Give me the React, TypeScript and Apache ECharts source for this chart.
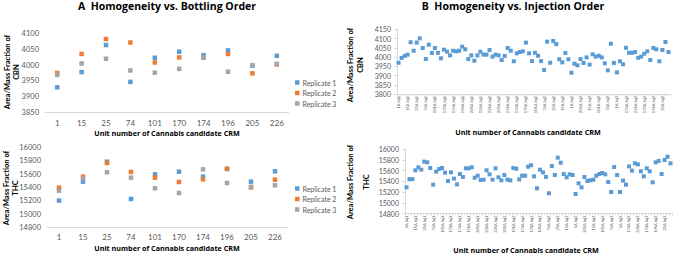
import React, { useEffect, useRef } from "react";
import * as echarts from "echarts";

// ---- Data ----
const units = ["1", "15", "25", "74", "101", "170", "174", "196", "205", "226"];
const replicateNames = ["Replicate 1", "Replicate 2", "Replicate 3"];

const bottlingCBNRep1 = [3930, 3978, 4063, 3947, 4023, 4042, 4031, 4046, 3998, 4029];
const bottlingCBNRep2 = [3975, 4035, 4082, 4071, 4008, 4024, 4023, 4035, 3974, 4002];
const bottlingCBNRep3 = [3969, 4005, 4020, 3983, 3976, 3988, 4024, 3979, 3999, 4004];

const bottlingTHCRep1 = [15202, 15488, 15789, 15227, 15598, 15639, 15563, 15679, 15488, 15644];
const bottlingTHCRep2 = [15398, 15563, 15769, 15634, 15548, 15483, 15523, 15684, 15400, 15518];
const bottlingTHCRep3 = [15352, 15538, 15629, 15548, 15388, 15317, 15674, 15468, 15410, 15433];

const vials = ["A", "B", "C"];
const inj1Order = ["1", "15", "25", "74", "101", "170", "174", "196", "205", "226"];
const inj2Order = ["226", "205", "196", "174", "170", "101", "74", "25", "15", "1"];
const inj3Order = ["205", "15", "101", "74", "1", "174", "226", "170", "196", "25"];

const injectionCBN = [
  3969, 3995, 4006, 4013, 4080, 4034, 4078, 4101, 4049, 3989,
  4067, 4022, 4049, 4023, 3993, 4040, 4029, 4009, 4034, 4031,
  4034, 4056, 4042, 3989, 4009, 3980, 4009, 4029, 4013, 4013,
  4038, 4002, 4013, 4009, 3984, 4006, 4049, 4034, 3977, 4020,
  4027, 4031, 4078, 4020, 3978, 4023, 4007, 3978, 3930, 4083,
  3969, 4087, 4070, 3988, 3971, 4022, 3988, 3915, 3964, 3955,
  3989, 3968, 3998, 3959, 4015, 4002, 4007, 3998, 3966, 3928,
  4072, 3968, 3917, 3977, 3961, 4050, 4023, 4023, 4027, 3996,
  4002, 4018, 4031, 3984, 4049, 4042, 3977, 4038, 4081, 4027,
];

const injectionTHC = [
  15290, 15440, 15440, 15605, 15660, 15617, 15765, 15753, 15648, 15338,
  15580, 15629, 15648, 15561, 15406, 15568, 15450, 15345, 15536, 15481,
  15642, 15642, 15660, 15468, 15505, 15425, 15431, 15605, 15530, 15431,
  15642, 15475, 15419, 15518, 15431, 15419, 15648, 15635, 15437, 15505,
  15505, 15672, 15700, 15493, 15270, 15617, 15567, 15481, 15178, 15684,
  15518, 15839, 15746, 15536, 15475, 15530, 15518, 15165, 15363, 15289,
  15481, 15406, 15419, 15431, 15505, 15536, 15555, 15530, 15388, 15202,
  15666, 15518, 15202, 15413, 15338, 15678, 15598, 15734, 15716, 15586,
  15493, 15642, 15586, 15382, 15753, 15777, 15536, 15796, 15857, 15734,
];

const yNameLine = "Area/Mass Fraction of";
const xName = "Unit number of Cannabis candidate CRM";

const injectionCategories: string[] = [];
[
  { order: inj1Order, inj: "Inj1" },
  { order: inj2Order, inj: "Inj2" },
  { order: inj3Order, inj: "Inj3" },
].forEach(({ order, inj }) => {
  order.forEach((u) => vials.forEach((v) => injectionCategories.push(`${u}${v} ${inj}`)));
});

const COLORS = ["#5B9BD5", "#ED7D31", "#A5A5A5"];
const LABEL_COLOR = "#595959";
const AXIS_COLOR = "#D9D9D9";
const FONT = "Lato";
const TITLE_FONT = "Open Sans";

export default function App() {
  const ref = useRef<HTMLDivElement>(null);

  useEffect(() => {
    if (!ref.current) return;
    const chart = echarts.init(ref.current, undefined, { renderer: "svg" });

    const catAxisA = (gridIndex: number) => ({
      type: "category",
      gridIndex,
      data: units,
      boundaryGap: true,
      axisLine: { show: true, lineStyle: { color: AXIS_COLOR, width: 1 } },
      axisTick: { show: false },
      axisLabel: { color: LABEL_COLOR, fontSize: 8, fontFamily: FONT, margin: 6 },
      splitLine: { show: false },
    });

    const catAxisB = (gridIndex: number) => ({
      type: "category",
      gridIndex,
      data: injectionCategories,
      boundaryGap: true,
      axisLine: { show: true, lineStyle: { color: AXIS_COLOR, width: 1 } },
      axisTick: { show: true, interval: 0, length: 2, lineStyle: { color: AXIS_COLOR } },
      axisLabel: {
        color: LABEL_COLOR,
        fontSize: 4,
        fontFamily: FONT,
        rotate: 90,
        interval: 2,
        margin: 2,
      },
      splitLine: { show: false },
    });

    const valAxis = (
      gridIndex: number,
      min: number,
      max: number,
      interval: number,
      fontSize: number,
      showLine: boolean
    ) => ({
      type: "value",
      gridIndex,
      min,
      max,
      interval,
      axisLine: { show: showLine, lineStyle: { color: AXIS_COLOR } },
      axisTick: { show: showLine, length: 3, lineStyle: { color: AXIS_COLOR } },
      axisLabel: {
        color: LABEL_COLOR,
        fontSize,
        fontFamily: FONT,
        margin: 6,
        formatter: (v: number) => String(v),
      },
      splitLine: { show: false },
    });

    const scatter = (
      name: string,
      data: number[],
      xIdx: number,
      yIdx: number,
      color: string,
      size: number
    ) => ({
      type: "scatter",
      name,
      data,
      xAxisIndex: xIdx,
      yAxisIndex: yIdx,
      symbol: "rect",
      symbolSize: size,
      itemStyle: { color, opacity: 1 },
    });

    const legend = (id: string, top: number) => ({
      id,
      data: replicateNames,
      orient: "vertical",
      left: 295,
      top,
      itemWidth: 4.5,
      itemHeight: 4.5,
      itemGap: 2.5,
      icon: "rect",
      selectedMode: false,
      textStyle: { color: LABEL_COLOR, fontSize: 7, fontFamily: FONT, lineHeight: 8, padding: [0, 0, 0, -2] },
      padding: 0,
    });

    const txt = (
      id: string,
      text: string,
      x: number,
      y: number,
      fontSize: number,
      rotation = 0,
      family = TITLE_FONT,
      fill = "#000"
    ) => ({
      id,
      type: "text",
      x,
      y,
      rotation,
      z: 100,
      style: {
        text,
        fill,
        fontSize,
        fontWeight: "bold",
        fontFamily: family,
        align: "center",
        verticalAlign: "middle",
        textAlign: "center",
        textVerticalAlign: "middle",
      },
    });

    const R = Math.PI / 2;

    chart.setOption({
      animation: false,
      backgroundColor: "#fff",
      grid: [
        { left: 45, top: 33.3, width: 244, height: 79.4 },
        { left: 47, top: 147.7, width: 240, height: 79.6 },
        { left: 397, top: 29.3, width: 273, height: 64.7 },
        { left: 405, top: 149, width: 267, height: 64.7 },
      ],
      xAxis: [catAxisA(0), catAxisA(1), catAxisB(2), catAxisB(3)],
      yAxis: [
        valAxis(0, 3850, 4100, 50, 7.5, false),
        valAxis(1, 14800, 16000, 200, 7.5, false),
        valAxis(2, 3800, 4150, 50, 7, true),
        valAxis(3, 14800, 16000, 200, 7, true),
      ],
      legend: [legend("legA1", 78.5), legend("legA2", 184.5)],
      series: [
        scatter(replicateNames[0], bottlingCBNRep1, 0, 0, COLORS[0], 4.5),
        scatter(replicateNames[1], bottlingCBNRep2, 0, 0, COLORS[1], 4.5),
        scatter(replicateNames[2], bottlingCBNRep3, 0, 0, COLORS[2], 4.5),
        scatter(replicateNames[0], bottlingTHCRep1, 1, 1, COLORS[0], 4.5),
        scatter(replicateNames[1], bottlingTHCRep2, 1, 1, COLORS[1], 4.5),
        scatter(replicateNames[2], bottlingTHCRep3, 1, 1, COLORS[2], 4.5),
        scatter("CBN injection", injectionCBN, 2, 2, COLORS[0], 4),
        scatter("THC injection", injectionTHC, 3, 3, COLORS[0], 4),
      ],
      graphic: {
        elements: [
          txt("tA", "A  Homogeneity vs. Bottling Order", 167, 6, 10.5),
          txt("tB", "B  Homogeneity vs. Injection Order", 513, 6, 10.5),
          txt("yA1a", yNameLine, 7, 72, 7.5, R, FONT),
          txt("yA1b", "CBN", 16, 72, 7.5, R, FONT),
          txt("yA2a", yNameLine, 6, 188, 7.5, R, FONT),
          txt("yA2b", "THC", 15, 188, 7.5, R, FONT),
          txt("yB1a", yNameLine, 350, 65, 7.5, R, FONT),
          txt("yB1b", "CBN", 360, 65, 7.5, R, FONT),
          txt("yB2a", yNameLine, 350, 182, 7.5, R, FONT, "#010101"),
          txt("yB2b", "THC", 366, 182, 7.5, R, FONT),
          txt("xA1", xName, 167, 133, 7.2),
          txt("xA2", xName, 167, 248, 7.2),
          txt("xB1", xName, 528, 131.5, 7.2),
          txt("xB2", xName, 526, 250, 7.2),
        ],
      },
    });

    return () => chart.dispose();
  }, []);

  return (
    <div
      ref={ref}
      style={{ position: "fixed", left: 0, top: 0, width: 675, height: 255, background: "#fff" }}
    />
  );
}
